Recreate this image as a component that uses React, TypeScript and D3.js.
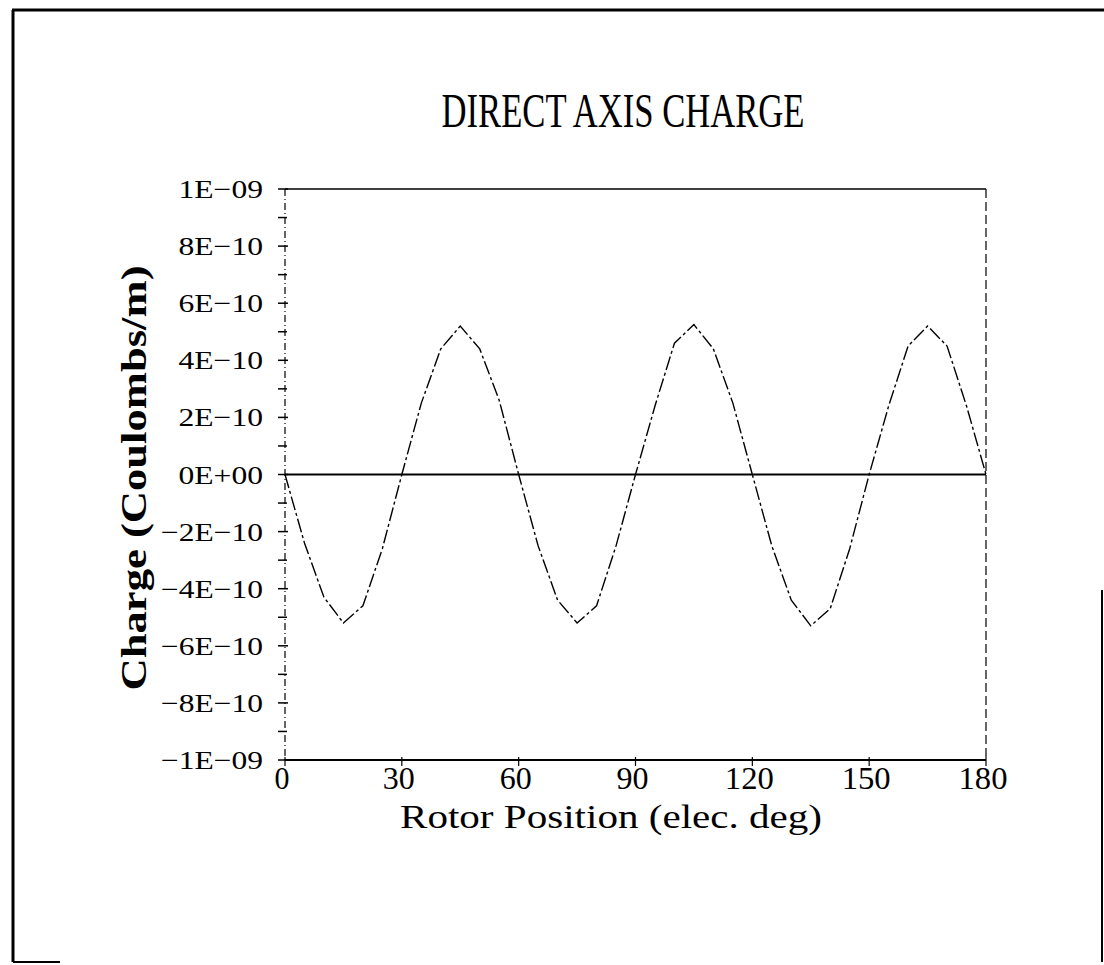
import React from "react";
import * as d3 from "d3";

const degrees = [0, 5, 10, 15, 20, 25, 30, 35, 40, 45, 50, 55, 60, 65, 70, 75, 80, 85, 90, 95, 100, 105, 110, 115, 120, 125, 130, 135, 140, 145, 150, 155, 160, 165, 170, 175, 180];
const charge = [0, -2.4e-10, -4.3e-10, -5.2e-10, -4.6e-10, -2.6e-10, 0, 2.5e-10, 4.4e-10, 5.2e-10, 4.4e-10, 2.6e-10, 0, -2.5e-10, -4.4e-10, -5.2e-10, -4.6e-10, -2.5e-10, 0, 2.4e-10, 4.6e-10, 5.25e-10, 4.4e-10, 2.5e-10, 0, -2.5e-10, -4.4e-10, -5.3e-10, -4.7e-10, -2.6e-10, 0, 2.4e-10, 4.5e-10, 5.2e-10, 4.5e-10, 2.4e-10, 0];
const xTicks = [0, 30, 60, 90, 120, 150, 180];
const yTicks = [1e-9, 8e-10, 6e-10, 4e-10, 2e-10, 0, -2e-10, -4e-10, -6e-10, -8e-10, -1e-9];
const yTickLabels = ["1E\u221209", "8E\u221210", "6E\u221210", "4E\u221210", "2E\u221210", "0E+00", "\u22122E\u221210", "\u22124E\u221210", "\u22126E\u221210", "\u22128E\u221210", "\u22121E\u221209"];
const yMinorTicks = [9e-10, 7e-10, 5e-10, 3e-10, 1e-10, -1e-10, -3e-10, -5e-10, -7e-10, -9e-10];

const title = "DIRECT AXIS CHARGE";
const xTitle = "Rotor Position (elec. deg)";
const yTitle = "Charge (Coulombs/m)";

export default function App() {
  const W = 1104, H = 965;
  const left = 285, right = 986, top = 189, bottom = 760;
  const x = d3.scaleLinear().domain([0, 180]).range([left, right]);
  const y = d3.scaleLinear().domain([-1e-9, 1e-9]).range([bottom, top]);
  const line = d3.line<number>().x((_, i) => x(degrees[i])).y((d) => y(d));
  const font = "'Liberation Serif', 'DejaVu Serif', serif";

  return (
    <svg width={W} height={H} style={{ position: "absolute", left: 0, top: 0, background: "#fff" }} fontFamily={font}>
      <rect x={0} y={0} width={W} height={H} fill="#fff" />
      {/* outer frame */}
      <line x1={12} y1={10} x2={W} y2={10} stroke="#000" strokeWidth={3} />
      <line x1={13} y1={10} x2={13} y2={962} stroke="#000" strokeWidth={3} />
      <line x1={1102} y1={590} x2={1102} y2={962} stroke="#000" strokeWidth={2} />
      <line x1={13} y1={962} x2={60} y2={962} stroke="#000" strokeWidth={2} />

      {/* title */}
      <text x={623} y={127} fontSize={48} textAnchor="middle" textLength={363} lengthAdjust="spacingAndGlyphs">{title}</text>

      {/* plot frame */}
      <line x1={left} y1={top} x2={right} y2={top} stroke="#000" strokeWidth={1.5} />
      <line x1={left} y1={bottom} x2={right} y2={bottom} stroke="#000" strokeWidth={2} />
      <line x1={left} y1={top} x2={left} y2={bottom} stroke="#000" strokeWidth={1.2} strokeDasharray="7,3,1,3" />
      <line x1={right} y1={top} x2={right} y2={bottom} stroke="#000" strokeWidth={1.2} strokeDasharray="9,4" />

      {/* zero line */}
      <line x1={left} y1={y(0)} x2={right} y2={y(0)} stroke="#000" strokeWidth={2} />

      {/* y ticks */}
      {yTicks.map((t, i) => (
        <g key={"yt" + i}>
          <line x1={left - 7} x2={left + 3} y1={y(t)} y2={y(t)} stroke="#000" strokeWidth={1.5} />
          <text x={263} y={y(t) + 9} fontSize={26} textAnchor="end" textLength={yTickLabels[i].length * 17.5 - 3} lengthAdjust="spacingAndGlyphs">{yTickLabels[i]}</text>
        </g>
      ))}
      {yMinorTicks.map((t, i) => (
        <line key={"ym" + i} x1={left - 7} x2={left + 2} y1={y(t)} y2={y(t)} stroke="#000" strokeWidth={1.5} />
      ))}

      {/* x ticks */}
      {xTicks.map((t, i) => (
        <g key={"xt" + i}>
          <line x1={x(t)} x2={x(t)} y1={bottom - 3} y2={bottom + 6} stroke="#000" strokeWidth={1.2} />
          <text x={x(t) - 3} y={789} fontSize={32} textAnchor="middle" textLength={String(t).length * 17 - 2} lengthAdjust="spacingAndGlyphs">{String(t)}</text>
        </g>
      ))}

      {/* axis titles */}
      <text x={611} y={828} fontSize={33} textAnchor="middle" textLength={422} lengthAdjust="spacingAndGlyphs">{xTitle}</text>
      <text transform={`translate(146, 478) rotate(-90)`} fontSize={36} fontWeight="bold" textAnchor="middle" textLength={425} lengthAdjust="spacingAndGlyphs">{yTitle}</text>

      {/* data */}
      <path d={line(charge) || ""} fill="none" stroke="#000" strokeWidth={1.4} strokeDasharray="14,3,3,3" />
    </svg>
  );
}
